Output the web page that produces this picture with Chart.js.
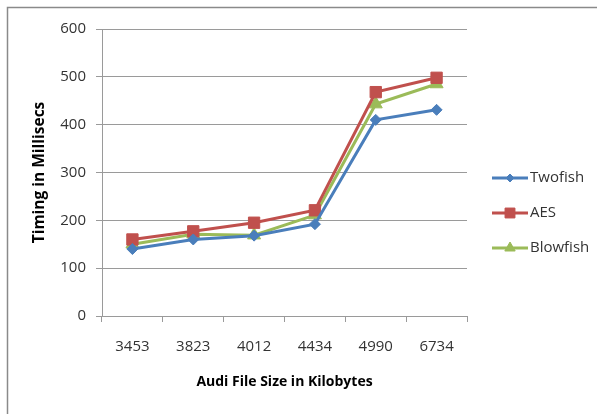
<!DOCTYPE html>
<html>
<head>
<meta charset="utf-8">
<script src="https://cdn.jsdelivr.net/npm/chart.js@4/dist/chart.umd.min.js"></script>
<style>
html,body{margin:0;padding:0;background:#fff;}
#wrap{width:597px;height:414px;position:relative;}
</style>
</head>
<body>
<div id="wrap"><canvas id="c" width="597" height="414"></canvas></div>
<script>
const categories = ['3453', '3823', '4012', '4434', '4990', '6734'];
const twofish = [140, 160, 168, 192, 410, 431];
const aes = [160, 177, 195, 221, 468, 498];
const blowfish = [150, 171, 169, 211, 443, 485];
const seriesNames = ['Twofish', 'AES', 'Blowfish'];
const yTicks = [0, 100, 200, 300, 400, 500, 600];
const xTitle = 'Audi File Size in Kilobytes';
const yTitle = 'Timing in Millisecs';

const FONT = "'Open Sans', 'DejaVu Sans', sans-serif";
const colors = ['#4A7EBB', '#C0504D', '#9BBB59'];
const styles = ['rectRot', 'rect', 'triangle'];
const radii = [5.5, 8, 7.5];
const legendRadii = [4, 7, 6];

const frame = {
  id: 'frame',
  beforeDraw(chart) {
    const ctx = chart.ctx;
    ctx.save();
    ctx.fillStyle = '#fff';
    ctx.fillRect(0, 0, chart.width, chart.height);
    ctx.strokeStyle = '#8a8a8a';
    ctx.lineWidth = 1.5;
    ctx.strokeRect(7.5, 7.5, 620, 440);
    ctx.restore();
  },
  afterDraw(chart) {
    const ctx = chart.ctx;
    ctx.save();
    chart.data.datasets.forEach((ds, i) => {
      const y = 178 + i * 35;
      ctx.strokeStyle = ds.borderColor;
      ctx.lineWidth = 3;
      ctx.beginPath();
      ctx.moveTo(492, y);
      ctx.lineTo(528, y);
      ctx.stroke();
      ctx.fillStyle = ds.borderColor;
      ctx.strokeStyle = ds.borderColor;
      ctx.lineWidth = 1;
      Chart.helpers.drawPoint(ctx, {pointStyle: ds.pointStyle, radius: legendRadii[i], borderWidth: 1}, 510, y);
      ctx.fillStyle = '#333';
      ctx.font = '15px ' + FONT;
      ctx.textBaseline = 'middle';
      ctx.textAlign = 'left';
      ctx.fillText(ds.label, 530, y);
    });
    ctx.restore();
  }
};

const datasets = [twofish, aes, blowfish].map((d, i) => ({
  label: seriesNames[i],
  data: d,
  borderColor: colors[i],
  backgroundColor: colors[i],
  borderWidth: 3,
  pointStyle: styles[i],
  pointRadius: radii[i],
  pointBorderWidth: 1,
  tension: 0,
  fill: false
}));

new Chart(document.getElementById('c'), {
  type: 'line',
  data: { labels: categories, datasets: datasets },
  options: {
    responsive: false,
    animation: false,
    devicePixelRatio: 1,
    layout: { padding: { top: 29, right: 130, left: 0, bottom: 0 } },
    plugins: { legend: { display: false }, tooltip: { enabled: false } },
    scales: {
      x: {
        type: 'category',
        offset: true,
        afterFit: s => { s.height = 98; },
        grid: { display: true, offset: true, drawOnChartArea: false, tickLength: 6, color: '#9a9a9a', lineWidth: 1 },
        border: { display: true, color: '#9a9a9a', width: 1 },
        ticks: { color: '#333', font: { family: FONT, size: 15 }, padding: 16, maxRotation: 0 },
        title: { display: true, text: xTitle, color: '#000', font: { family: FONT, size: 14, weight: 'bold' }, padding: { top: 0, bottom: 24 } }
      },
      y: {
        min: 0, max: 600,
        afterFit: s => { s.width = 102; },
        afterBuildTicks: s => { s.ticks = yTicks.map(v => ({ value: v })); },
        grid: { color: '#9a9a9a', lineWidth: 1, tickLength: 6 },
        border: { display: true, color: '#9a9a9a', width: 1 },
        ticks: { color: '#333', font: { family: FONT, size: 15 }, padding: 10 },
        title: { display: true, text: yTitle, color: '#000', font: { family: FONT, size: 15.5, weight: 'bold' }, padding: { top: 30, bottom: 0 } }
      }
    }
  },
  plugins: [frame]
});
</script>
</body>
</html>
